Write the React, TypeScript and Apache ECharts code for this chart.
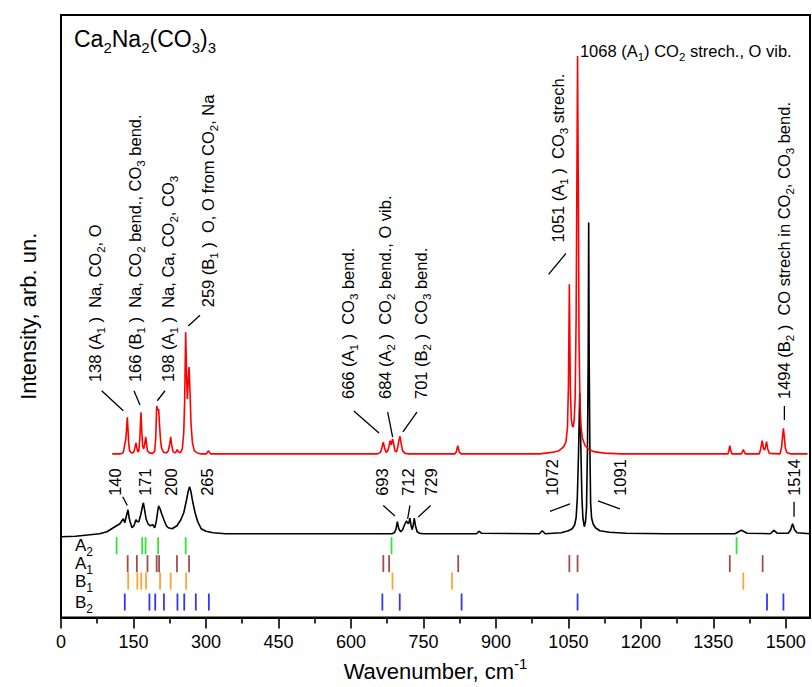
import React, { useEffect, useRef } from 'react';
import * as echarts from 'echarts';

const FONT = '"Liberation Sans", Arial, Helvetica, sans-serif';

// ---------------- data (wavenumber cm-1, intensity arb. un.) ----------------
const blackSpectrum: [number, number][] = [
  [0, 81], [30, 81.5], [60, 83], [80, 84], [95, 86], [105, 89], [115, 92], [122, 94], [126, 97], [129, 99],
  [132, 95], [135, 101], [138.6, 108], [141, 100], [143, 96], [147, 90], [151, 92], [155, 98], [158, 96],
  [161, 96], [165, 103], [168, 110], [170.5, 115], [173, 108], [176, 99], [180, 94], [184, 92], [190, 93],
  [194, 90], [197, 96], [200, 106], [202, 112], [205, 109], [209, 103], [213, 98], [218, 92], [222, 90],
  [230, 89], [240, 92], [248, 98], [254, 105], [259, 116], [263, 126], [266, 131], [269, 126], [273, 115],
  [278, 104], [283, 96], [290, 89], [300, 86.5], [315, 85], [340, 84], [685, 84], [690, 85], [693, 88],
  [696, 96], [699, 89], [703, 86], [707, 88], [711, 93], [715, 97], [718, 94], [720, 95], [722, 99.5],
  [724.5, 92], [727, 88], [729, 93], [731, 99.5], [733.5, 92], [737, 86], [742, 84.5], [750, 84],
  [860, 84], [865, 86.5], [870, 84.5], [990, 84], [996, 87], [1002, 84], [1035, 85], [1050, 87],
  [1058, 89], [1063, 93], [1066, 100], [1068.5, 120], [1071, 165], [1073.5, 225], [1076, 165],
  [1078, 120], [1080, 100], [1083, 91], [1085.5, 96], [1087.5, 110], [1089.5, 170], [1091, 260],
  [1092, 396], [1093, 260], [1094.5, 170], [1096, 115], [1098, 100], [1101, 94], [1106, 90], [1115, 87],
  [1135, 85.5], [1170, 84.5], [1250, 84], [1395, 84], [1402, 86], [1408, 87.5], [1414, 86], [1420, 84.5],
  [1468, 84], [1475, 87.5], [1482, 84.5], [1505, 84.5], [1510, 88], [1514, 94], [1518, 88], [1523, 85],
  [1550, 84],
];

const redSpectrum: [number, number][] = [
  [106, 164], [122, 164], [128, 165], [130, 168], [132.4, 175], [134, 178], [135.5, 188], [137.2, 200.7],
  [138.5, 190], [140, 175], [142, 167], [146, 165], [150, 165.5], [152, 168], [155.2, 175], [157, 170],
  [159, 166], [161, 167], [163, 178], [165.5, 205.7], [167, 188], [169, 172], [171, 169], [173, 173],
  [175.3, 181], [177, 174], [179, 167], [183, 165], [190, 164.5], [194, 167], [196, 180], [198, 212],
  [200, 208], [202, 209], [204, 192], [206, 178], [208, 170], [212, 166], [218, 165], [222, 167],
  [225, 174], [227, 181], [229, 173], [232, 166], [236, 165], [238.5, 166.5], [240.6, 168.3], [243, 166],
  [247, 165], [251, 169], [254, 185], [256, 220], [258, 286], [260, 240], [261.5, 219], [263, 235],
  [265, 251], [267, 225], [269, 195], [272, 175], [276, 167], [282, 165], [290, 164], [301, 164],
  [303.5, 166], [305, 167.3], [306.5, 166], [310, 164], [655, 164], [661, 165.5], [664, 170], [667, 175.7],
  [670, 169], [673, 165.5], [676, 167], [678.5, 171], [681, 177.3], [683.5, 173], [686, 179], [688.5, 174],
  [691, 167], [694, 166], [697, 171], [699.5, 178], [701.5, 181.7], [704, 174], [707, 167], [712, 164.5],
  [720, 164], [815, 164], [818, 166], [821, 172.3], [824, 166], [828, 164], [990, 164], [1015, 165.5],
  [1030, 167], [1040, 171], [1045, 176], [1048, 190], [1050, 230], [1052, 334], [1054, 230], [1056, 200],
  [1058, 192], [1060, 191], [1062, 198], [1064, 220], [1066, 300], [1067.5, 430], [1069, 563],
  [1070.5, 430], [1072, 280], [1074, 215], [1076, 192], [1079, 180], [1084, 173], [1092, 168.5],
  [1105, 166], [1125, 164.8], [1160, 164], [1380, 164], [1382, 167], [1384, 172.3], [1386, 167],
  [1388.5, 164], [1408, 164], [1410, 166], [1412, 168.3], [1414, 166], [1416, 164], [1445, 164],
  [1448, 169], [1451, 177.3], [1454, 169], [1456, 168], [1458, 171], [1460, 176.3], [1462.5, 169],
  [1466, 164.5], [1488, 164], [1491, 170], [1493, 180], [1495, 189.7], [1497, 180], [1499, 170],
  [1502, 165.5], [1510, 164], [1545, 164],
];

// calculated mode positions (cm-1) per symmetry
const modesA2 = [115, 168, 175, 201, 258, 684, 1398];
const modesA1 = [138, 157, 179, 198, 203, 240, 265, 667, 679, 822, 1052, 1069, 1384, 1452];
const modesB1 = [139, 158, 166, 176, 205, 227, 259, 686, 809, 1412];
const modesB2 = [132, 183, 195, 213, 241, 255, 279, 306, 665, 701, 829, 1069, 1461, 1495];

const majorTicks = [0, 150, 300, 450, 600, 750, 900, 1050, 1200, 1350, 1500];
const minorTicks = [75, 225, 375, 525, 675, 825, 975, 1125, 1275, 1425];

// ---------------- layout / annotation config ----------------
const rowLevel = { A2: 72, A1: 54, B1: 36.5, B2: 15.5 };

type Pt = [number, number];
type Ann = { text: string; at: Pt; rotate: boolean; leader?: [Pt, Pt] };

const annotations: Ann[] = [
  { text: '138 (A_1 )  Na, CO_2, O', at: [70.3, 236], rotate: true, leader: [[84.2, 227.3], [128.9, 207.3]] },
  { text: '166 (B_1 )  Na, CO_2 bend., CO_3 bend.', at: [153.1, 236], rotate: true, leader: [[151, 227.3], [163.5, 213]] },
  { text: '198 (A_1 )  Na, Ca, CO_2, CO_3', at: [221.4, 236], rotate: true, leader: [[215.2, 227.3], [199.3, 217.3]] },
  { text: '259 (B_1 )  O, O from CO_2, Na', at: [304.2, 311], rotate: true, leader: [[287.6, 303], [263.4, 292.3]] },
  { text: '666 (A_1 )  CO_3 bend.', at: [593.8, 219], rotate: true, leader: [[606, 207], [658, 185]] },
  { text: '684 (A_2 )  CO_2 bend., O vib.', at: [670.4, 219], rotate: true, leader: [[676, 206], [686.3, 180.7]] },
  { text: '701 (B_2 )  CO_3 bend.', at: [744.9, 219], rotate: true, leader: [[736.6, 206], [707.6, 186]] },
  { text: '1051 (A_1 )  CO_3 strech.', at: [1028.3, 376], rotate: true, leader: [[1009, 344], [1045, 365]] },
  { text: '1068 (A_1) CO_2 strech., O vib.', at: [1073.9, 568], rotate: false },
  { text: '1494 (B_2 )  CO strech in CO_2, CO_3 bend.', at: [1496, 219], rotate: true, leader: [[1497, 212], [1497, 198]] },
  { text: '140', at: [111.7, 122], rotate: true, leader: [[127.7, 121], [137.2, 112.3]] },
  { text: '171', at: [172.8, 122], rotate: true },
  { text: '200', at: [227.6, 122], rotate: true },
  { text: '265', at: [303.1, 122], rotate: true },
  { text: '693', at: [664.2, 122], rotate: true, leader: [[666.9, 112.3], [691.1, 101.7]] },
  { text: '712', at: [718, 122], rotate: true, leader: [[722.1, 112.3], [717.4, 99]] },
  { text: '729', at: [765.6, 122], rotate: true, leader: [[765, 112.3], [739.3, 100.7]] },
  { text: '1072', at: [1016, 122], rotate: true, leader: [[1011.8, 106.3], [1053.2, 114]] },
  { text: '1091', at: [1156.6, 122], rotate: true, leader: [[1111.1, 117], [1156.6, 109]] },
  { text: '1514', at: [1516.6, 122], rotate: true, leader: [[1517, 116], [1517, 101]] },
];

const rowLabels: { text: string; level: number }[] = [
  { text: 'A_2', level: rowLevel.A2 },
  { text: 'A_1', level: rowLevel.A1 },
  { text: 'B_1', level: rowLevel.B1 },
  { text: 'B_2', level: rowLevel.B2 },
];

function toRich(s: string): string {
  let out = '';
  let buf = '';
  for (let i = 0; i < s.length; i++) {
    const c = s[i];
    if (c === '_') {
      if (buf) { out += `{n|${buf}}`; buf = ''; }
      out += `{s|${s[i + 1]}}`;
      i++;
    } else buf += c;
  }
  if (buf) out += `{n|${buf}}`;
  return out;
}

const annRich = {
  n: { fontSize: 16.5, fontFamily: FONT, fill: '#000' },
  s: { fontSize: 11.5, fontFamily: FONT, fill: '#000', padding: [13, 0, 0, 0] },
};
const rowRich = {
  n: { fontSize: 17, fontFamily: FONT, fill: '#000' },
  s: { fontSize: 12, fontFamily: FONT, fill: '#000', padding: [13, 0, 0, 0] },
};

function modeSeries(name: string, values: number[], level: number, color: string) {
  return {
    name,
    type: 'scatter',
    xAxisIndex: 0,
    yAxisIndex: 0,
    symbol: 'rect',
    symbolSize: [1.8, 17],
    silent: true,
    itemStyle: { color },
    data: values.map((w) => [w, level]),
    z: 2,
  };
}

export default function App() {
  const ref = useRef<HTMLDivElement>(null);
  useEffect(() => {
    const el = ref.current!;
    const chart = echarts.init(el, undefined, { renderer: 'svg' });
    const option: any = {
      animation: false,
      backgroundColor: '#fff',
      title: {
        left: 69,
        top: 18,
        text: '{n|Ca}{s|2}{n|Na}{s|2}{n|(CO}{s|3}{n|)}{s|3}',
        textStyle: {
          fontWeight: 'normal',
          rich: {
            n: { fontSize: 23, fontFamily: FONT, color: '#000', fontWeight: 'normal' },
            s: { fontSize: 15, fontFamily: FONT, color: '#000', fontWeight: 'normal', padding: [17, 0, 0, 0] },
          },
        },
      },
      grid: {
        left: 61, right: 2, top: 15, bottom: 68,
        show: true, borderColor: '#000', borderWidth: 2, backgroundColor: 'transparent',
      },
      xAxis: [
        {
          type: 'value', min: 0, max: 1550, position: 'bottom',
          name: '{n|Wavenumber, cm}{p|-1}',
          nameLocation: 'middle', nameGap: 38,
          nameTextStyle: {
            rich: {
              n: { fontSize: 22, fontFamily: FONT, color: '#000' },
              p: { fontSize: 15, fontFamily: FONT, color: '#000', padding: [0, 0, 16, 0] },
            },
          },
          axisLine: { show: true, lineStyle: { color: '#000', width: 2 } },
          axisTick: { show: true, customValues: majorTicks, length: 11, lineStyle: { color: '#000', width: 1.6 } },
          axisLabel: {
            show: true, customValues: majorTicks, fontSize: 18, fontFamily: FONT, color: '#000', margin: 15,
            formatter: (v: number) => String(v),
          },
          splitLine: { show: false },
        },
        {
          type: 'value', min: 0, max: 1550, position: 'bottom',
          axisLine: { show: false },
          axisTick: { show: true, customValues: minorTicks, length: 6, lineStyle: { color: '#000', width: 1.6 } },
          axisLabel: { show: false },
          splitLine: { show: false },
        },
      ],
      yAxis: {
        type: 'value', min: 0, max: 604,
        name: 'Intensity, arb. un.', nameLocation: 'middle', nameGap: 22,
        nameTextStyle: { fontSize: 22, fontFamily: FONT, color: '#000' },
        axisLine: { show: false }, axisTick: { show: false }, axisLabel: { show: false },
        splitLine: { show: false },
      },
      series: [
        {
          name: 'experiment', type: 'line', xAxisIndex: 0, yAxisIndex: 0, data: blackSpectrum,
          showSymbol: false, symbol: 'none', silent: true,
          lineStyle: { color: '#000', width: 1.6 }, z: 3,
        },
        {
          name: 'calculation', type: 'line', xAxisIndex: 0, yAxisIndex: 0, data: redSpectrum,
          showSymbol: false, symbol: 'none', silent: true,
          lineStyle: { color: '#ff0000', width: 1.6 }, z: 4,
        },
        modeSeries('A2', modesA2, rowLevel.A2, '#00dd00'),
        modeSeries('A1', modesA1, rowLevel.A1, '#8b2020'),
        modeSeries('B1', modesB1, rowLevel.B1, '#ff8c00'),
        modeSeries('B2', modesB2, rowLevel.B2, '#0000ff'),
      ],
    };
    chart.setOption(option);

    const px = (p: Pt) => chart.convertToPixel({ xAxisIndex: 0, yAxisIndex: 0 }, p) as number[];
    const elements: any[] = [];
    annotations.forEach((a) => {
      const [x, y] = px(a.at);
      elements.push({
        type: 'text', x, y, rotation: a.rotate ? Math.PI / 2 : 0, silent: true, z: 10,
        style: {
          text: toRich(a.text), rich: annRich, fontSize: 16.5, fontFamily: FONT, fill: '#000',
          align: 'left', verticalAlign: 'middle',
        },
      });
      if (a.leader) {
        const [x1, y1] = px(a.leader[0]);
        const [x2, y2] = px(a.leader[1]);
        elements.push({
          type: 'line', silent: true, z: 10,
          shape: { x1, y1, x2, y2 },
          style: { stroke: '#000', lineWidth: 1.3 },
        });
      }
    });
    rowLabels.forEach((r) => {
      const [x, y] = px([29, r.level]);
      elements.push({
        type: 'text', x, y, silent: true, z: 10,
        style: {
          text: toRich(r.text), rich: rowRich, fontSize: 17, fontFamily: FONT, fill: '#000',
          align: 'left', verticalAlign: 'middle',
        },
      });
    });
    chart.setOption({ graphic: { elements } });

    return () => chart.dispose();
  }, []);
  return (
    <div
      ref={ref}
      style={{ position: 'absolute', left: 0, top: 0, width: 812, height: 687, background: '#fff' }}
    />
  );
}
